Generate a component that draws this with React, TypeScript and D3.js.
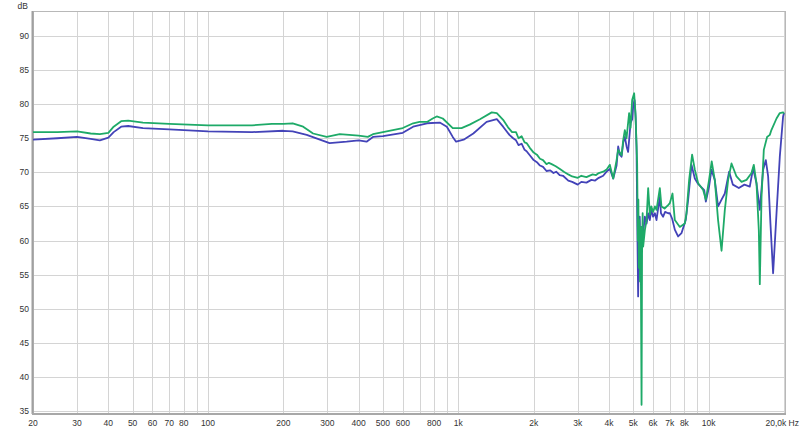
import * as d3 from 'd3';

// frequency response readings, [Hz, dB]
const blueCurve: [number, number][] = [
  [20, 74.8], [25, 75.0], [30, 75.2], [34, 74.9], [37, 74.7], [40, 75.1], [42, 75.9], [45, 76.7], [48, 76.8],
  [55, 76.5], [70, 76.3], [100, 76.0], [150, 75.9], [200, 76.1], [218, 76.0], [248, 75.5], [280, 74.8],
  [306, 74.3], [358, 74.5], [400, 74.7], [430, 74.5], [456, 75.2], [500, 75.3], [600, 75.8], [660, 76.7],
  [750, 77.2], [843, 77.3], [900, 76.7], [950, 75.2], [980, 74.5], [1050, 74.8], [1148, 75.7], [1297, 77.4],
  [1425, 77.8], [1510, 76.7], [1600, 75.5], [1656, 75.0], [1700, 74.7], [1740, 74.0], [1790, 74.2],
  [1840, 73.3], [1874, 73.1], [1930, 72.5], [2000, 71.8], [2060, 71.5], [2120, 71.0], [2180, 70.8],
  [2250, 70.2], [2330, 70.3], [2400, 69.9], [2460, 70.1], [2540, 69.6], [2620, 69.5], [2750, 68.8],
  [2850, 68.6], [3000, 68.2], [3100, 68.6], [3250, 68.5], [3400, 68.9], [3520, 68.8], [3640, 69.2],
  [3790, 69.5], [3910, 70.1], [4030, 70.5], [4157, 69.1], [4288, 71.0], [4351, 73.8], [4420, 72.6],
  [4489, 72.3], [4560, 74.4], [4626, 75.2], [4700, 73.8], [4768, 73.0], [4875, 77.2], [4950, 77.8],
  [5000, 79.9], [5060, 80.6], [5110, 78.0], [5150, 73.8], [5190, 62.0], [5228, 51.8], [5262, 60.0],
  [5305, 63.5], [5340, 58.0], [5400, 62.0], [5475, 61.1], [5561, 63.5], [5650, 62.5], [5733, 64.0],
  [5820, 63.0], [5900, 64.5], [6000, 63.5], [6100, 64.0], [6190, 63.0], [6300, 65.0], [6383, 66.4],
  [6450, 64.0], [6578, 63.5], [6700, 64.2], [6888, 64.0], [7000, 64.0], [7150, 63.2], [7326, 61.6],
  [7551, 60.6], [7793, 61.1], [8100, 63.0], [8282, 66.0], [8543, 71.1], [8807, 69.1], [9080, 68.3],
  [9300, 67.9], [9600, 67.4], [9746, 65.7], [10040, 67.9], [10265, 70.4], [10580, 68.9], [10907, 65.0],
  [11260, 66.0], [11605, 66.9], [12075, 70.1], [12500, 68.2], [13200, 67.7], [13900, 68.2], [14600, 67.9],
  [15052, 70.6], [15530, 68.4], [16010, 64.5], [16506, 70.4], [16920, 71.8], [17285, 69.4], [17655, 62.5],
  [18092, 55.2], [18670, 64.0], [19243, 72.3], [19834, 78.2], [20000, 78.7],
];

const greenCurve: [number, number][] = [
  [20, 75.9], [25, 75.9], [30, 76.0], [34, 75.7], [37, 75.6], [40, 75.8], [42, 76.7], [45, 77.5], [48, 77.6],
  [55, 77.3], [70, 77.1], [100, 76.9], [150, 76.9], [180, 77.1], [200, 77.1], [218, 77.2], [240, 76.7],
  [263, 75.7], [298, 75.2], [336, 75.6], [400, 75.4], [435, 75.2], [456, 75.6], [500, 75.9], [600, 76.5],
  [660, 77.2], [700, 77.4], [750, 77.4], [790, 77.9], [820, 78.2], [867, 77.9], [950, 76.5], [1030, 76.5],
  [1110, 77.0], [1220, 77.8], [1360, 78.8], [1425, 78.7], [1510, 77.7], [1580, 76.6], [1640, 75.9],
  [1700, 75.9], [1740, 75.0], [1790, 75.3], [1840, 74.4], [1874, 74.3], [1930, 73.6], [2000, 72.9],
  [2060, 72.6], [2120, 72.0], [2180, 71.8], [2250, 71.2], [2300, 71.4], [2360, 71.2], [2450, 70.9],
  [2546, 70.5], [2640, 70.1], [2750, 69.7], [2850, 69.4], [3000, 69.2], [3100, 69.5], [3250, 69.3],
  [3440, 69.7], [3550, 69.6], [3640, 69.9], [3790, 70.1], [3910, 70.4], [4030, 71.1], [4157, 69.1],
  [4288, 71.8], [4351, 73.3], [4489, 72.5], [4560, 74.8], [4626, 76.2], [4699, 75.0], [4812, 78.7],
  [4875, 76.5], [4948, 80.6], [5040, 81.6], [5101, 78.7], [5181, 71.3], [5214, 60.0], [5240, 66.0],
  [5262, 56.0], [5290, 63.0], [5320, 54.0], [5350, 62.0], [5395, 35.9], [5420, 58.0], [5450, 64.0],
  [5475, 59.1], [5561, 61.5], [5649, 63.0], [5733, 67.7], [5823, 63.8], [5900, 65.0], [6000, 64.2],
  [6100, 65.0], [6190, 64.5], [6383, 67.7], [6480, 65.0], [6667, 64.7], [6888, 65.2], [7000, 65.5],
  [7172, 66.9], [7326, 63.0], [7672, 62.0], [8030, 62.5], [8156, 64.0], [8358, 68.9], [8590, 72.6],
  [8807, 70.4], [9080, 68.4], [9509, 67.4], [9746, 66.0], [10040, 68.9], [10286, 71.6], [10580, 68.9],
  [10907, 63.0], [11260, 58.5], [11605, 64.5], [11964, 68.9], [12342, 71.3], [12922, 69.4], [13530, 68.6],
  [14168, 68.9], [14835, 69.9], [15150, 71.1], [15530, 68.4], [15865, 61.5], [16010, 53.6], [16265, 66.4],
  [16610, 73.3], [17120, 75.2], [17555, 75.5], [17810, 76.2], [18670, 77.9], [19243, 78.7], [19834, 78.8],
  [20000, 78.6],
];

const xGrid = [
  20, 30, 40, 50, 60, 70, 80, 90, 100, 200, 300, 400, 500, 600, 700, 800, 900, 1000,
  2000, 3000, 4000, 5000, 6000, 7000, 8000, 9000, 10000, 20000,
];
const xLabels: [number, string][] = [
  [20, '20'], [30, '30'], [40, '40'], [50, '50'], [60, '60'], [70, '70'], [80, '80'], [100, '100'],
  [200, '200'], [300, '300'], [400, '400'], [500, '500'], [600, '600'], [800, '800'], [1000, '1k'],
  [2000, '2k'], [3000, '3k'], [4000, '4k'], [5000, '5k'], [6000, '6k'], [7000, '7k'], [8000, '8k'],
  [10000, '10k'],
];
const yTicks = [35, 40, 45, 50, 55, 60, 65, 70, 75, 80, 85, 90];

export default function App() {
  const width = 800;
  const height = 431;
  const left = 33, right = 784, top = 11, bottom = 413;

  const x = d3.scaleLog().domain([20, 20000]).range([left, right]);
  const y = d3.scaleLinear().domain([35, 90]).range([411, 36]);

  const line = d3.line<[number, number]>()
    .x(d => x(d[0]))
    .y(d => y(d[1]));

  const font = { fontFamily: 'Liberation Sans, Arial, sans-serif', fontSize: 8.5, fill: '#333' };

  return (
    <svg width={width} height={height} style={{ position: 'absolute', left: 0, top: 0, background: '#fff' }}>
      {/* grid */}
      {xGrid.map(f => (
        <line key={'gx' + f} x1={Math.round(x(f)) + 0.5} x2={Math.round(x(f)) + 0.5} y1={top} y2={bottom}
          stroke="#d4d4d4" strokeWidth={1} />
      ))}
      {yTicks.map(v => (
        <line key={'gy' + v} x1={left} x2={right + 1} y1={Math.round(y(v)) + 0.5} y2={Math.round(y(v)) + 0.5}
          stroke="#d4d4d4" strokeWidth={1} />
      ))}

      {/* frame */}
      <rect x={left + 0.5} y={top + 0.5} width={right + 1 - left} height={bottom - top} fill="none" stroke="#b8b8b8" />
      <line x1={left - 0.5} x2={left - 0.5} y1={top} y2={bottom + 1} stroke="#a0a0a0" strokeWidth={2} />
      <line x1={left - 1} x2={right + 2} y1={bottom + 1} y2={bottom + 1} stroke="#a8a8a8" strokeWidth={2} />

      {/* curves */}
      <path d={line(blueCurve) || ''} fill="none" stroke="#4343b8" strokeWidth={1.8} strokeLinejoin="round" />
      <path d={line(greenCurve) || ''} fill="none" stroke="#1eaa68" strokeWidth={1.8} strokeLinejoin="round" />

      {/* y labels */}
      {yTicks.map(v => (
        <text key={'ly' + v} x={29} y={y(v) + 3} textAnchor="end" {...font}>{v}</text>
      ))}
      <text x={28} y={9} textAnchor="end" {...font}>dB</text>

      {/* x labels */}
      {xLabels.map(([f, s]) => (
        <text key={'lx' + f} x={x(f)} y={426} textAnchor="middle" {...font}>{s}</text>
      ))}
      <text x={799} y={426} textAnchor="end" {...font}>20,0k Hz</text>
    </svg>
  );
}
